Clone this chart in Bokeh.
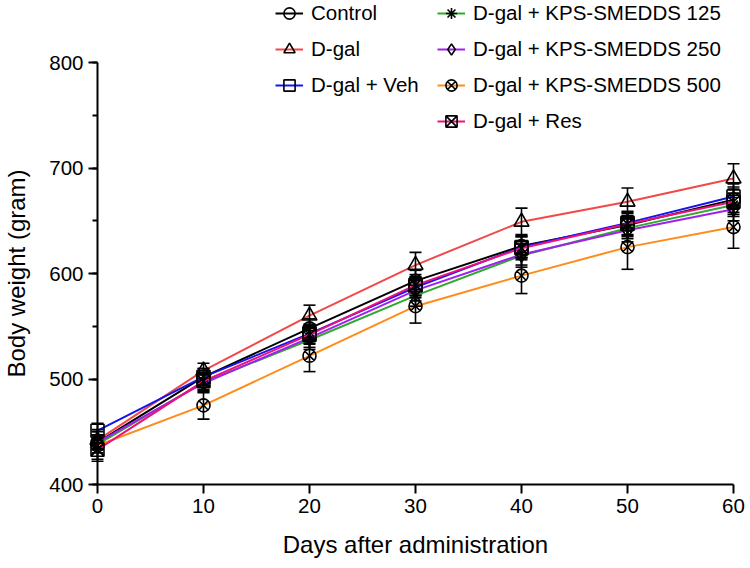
from bokeh.plotting import figure
from bokeh.models import (Range1d, SingleIntervalTicker, Whisker, TeeHead,
                          ColumnDataSource, Legend, LegendItem)
from bokeh.embed import file_html
from bokeh.resources import INLINE

# Body weight (g) over the administration period, mean and SD per group
days = [0, 10, 20, 30, 40, 50, 60]

group_names = ["Control", "D-gal", "D-gal + Veh", "D-gal + KPS-SMEDDS 125",
               "D-gal + KPS-SMEDDS 250", "D-gal + KPS-SMEDDS 500", "D-gal + Res"]

control = [440, 502, 548, 593, 626, 646, 670]
dgal = [442, 508, 560, 608, 649, 668, 690]
veh = [451, 502, 543, 587, 625, 648, 673]
kps125 = [438, 497, 537, 579, 617, 643, 665]
kps250 = [440, 496, 539, 584, 618, 641, 661]
kps500 = [437, 475, 522, 569, 598, 625, 644]
res = [433, 498, 542, 589, 624, 647, 668]

control_sd = [7, 8, 9, 10, 11, 11, 12]
dgal_sd = [8, 7, 10, 12, 13, 13, 14]
veh_sd = [7, 8, 9, 10, 10, 11, 12]
kps125_sd = [8, 8, 9, 10, 11, 10, 11]
kps250_sd = [7, 9, 9, 10, 10, 11, 11]
kps500_sd = [15, 13, 15, 16, 17, 21, 20]
res_sd = [9, 8, 9, 10, 11, 11, 12]

y_ticks = [400, 500, 600, 700, 800]
x_ticks = [0, 10, 20, 30, 40, 50, 60]

FONT = "Liberation Sans"

styles = [
    ("#000000", "circle", 13),
    ("#f24848", "triangle", 15),
    ("#1414f0", "square", 13),
    ("#2eaa2e", "asterisk", 12),
    ("#a020f0", "diamond", 15),
    ("#ff8c1a", "circle_x", 13),
    ("#f0107c", "square_x", 13),
]
means = [control, dgal, veh, kps125, kps250, kps500, res]
sds = [control_sd, dgal_sd, veh_sd, kps125_sd, kps250_sd, kps500_sd, res_sd]

W, H = 750, 568

# frame covers the whole canvas; axes are pinned to data coordinates
px_x = 636 / 60.0
px_y = 422 / 400.0
x0 = -97 / px_x
y1 = 800 + 62 / px_y

p = figure(width=W, height=H, output_backend="svg", toolbar_location=None,
           title=None,
           x_range=Range1d(x0, x0 + W / px_x),
           y_range=Range1d(y1 - H / px_y, y1),
           min_border=0)
p.outline_line_color = None
p.xgrid.visible = False
p.ygrid.visible = False
p.background_fill_color = "white"

for ax in (p.xaxis[0], p.yaxis[0]):
    ax.axis_line_width = 2
    ax.axis_line_color = "black"
    ax.major_tick_line_width = 2
    ax.minor_tick_line_width = 2
    ax.major_tick_out = 9
    ax.major_tick_in = 0
    ax.minor_tick_out = 5
    ax.minor_tick_in = 0
    ax.major_label_text_font = FONT
    ax.major_label_text_font_size = "20.5px"
    ax.major_label_text_color = "black"
    ax.axis_label_text_font = FONT
    ax.axis_label_text_font_size = "24px"
    ax.axis_label_text_font_style = "normal"
    ax.axis_label_text_color = "black"
    ax.major_label_standoff = 5

p.xaxis[0].ticker = SingleIntervalTicker(interval=10, num_minor_ticks=0)
p.xaxis[0].bounds = (x_ticks[0], x_ticks[-1])
p.xaxis[0].fixed_location = 400
p.xaxis[0].axis_label = "Days after administration"
p.xaxis[0].axis_label_standoff = 15

p.yaxis[0].ticker = SingleIntervalTicker(interval=100, num_minor_ticks=2)
p.yaxis[0].bounds = (y_ticks[0], y_ticks[-1])
p.yaxis[0].fixed_location = 0
p.yaxis[0].axis_label = "Body weight (gram)"
p.yaxis[0].axis_label_standoff = 16

items = []
for name, m, sd, (color, marker, size) in zip(group_names, means, sds, styles):
    src = ColumnDataSource(dict(
        x=days, y=m,
        upper=[a + b for a, b in zip(m, sd)],
        lower=[a - b for a, b in zip(m, sd)],
    ))
    line = p.line("x", "y", source=src, line_color=color, line_width=2)
    wh = Whisker(base="x", upper="upper", lower="lower", source=src,
                 dimension="height", line_color="black", line_width=1.6,
                 upper_head=TeeHead(size=12, line_color="black", line_width=1.6),
                 lower_head=TeeHead(size=12, line_color="black", line_width=1.6),
                 level="glyph")
    p.add_layout(wh)
    pts = p.scatter("x", "y", source=src, marker=marker, size=size,
                    line_color="black", line_width=1.6, fill_color=None)
    items.append(LegendItem(label=name, renderers=[line, pts]))

ROW_H, ROW_GAP = 28, 8


def make_legend(its, x_left):
    # legend location is its bottom-left corner, measured from the frame bottom
    height = len(its) * ROW_H + (len(its) - 1) * ROW_GAP
    leg = Legend(items=its, location=(x_left, H - height + 1), orientation="vertical",
                 padding=0, margin=0, spacing=ROW_GAP,
                 glyph_width=28, glyph_height=ROW_H, label_height=ROW_H,
                 label_standoff=8,
                 label_text_font=FONT, label_text_font_size="20.5px",
                 label_text_color="black", label_text_baseline="middle",
                 border_line_color=None, background_fill_alpha=0)
    return leg


p.add_layout(make_legend(items[:3], 275))
p.add_layout(make_legend(items[3:], 437))

open("out.html", "w").write(file_html(p, INLINE))
